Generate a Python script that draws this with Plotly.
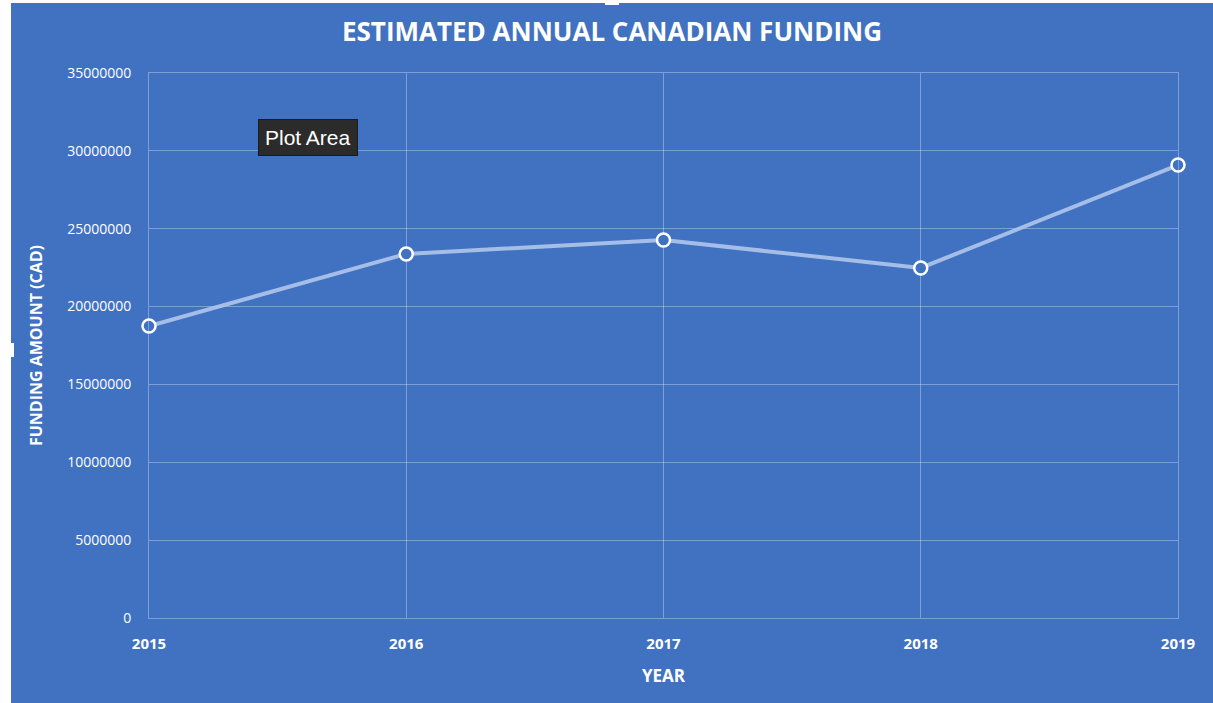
import plotly.graph_objects as go

years = [2015, 2016, 2017, 2018, 2019]
funding = [18750000, 23380000, 24280000, 22480000, 29090000]
y_ticks = [0, 5000000, 10000000, 15000000, 20000000, 25000000, 30000000, 35000000]
x_ticks = [2015, 2016, 2017, 2018, 2019]

BLUE = "#4072C1"
GRID = "rgba(255,255,255,0.32)"
W, H = 1213, 703
L, R, T, B = 149, 35, 73, 85
pw, ph = W - L - R, H - T - B

def px_x(p):
    return (p - L) / pw

def px_y(p):
    return (H - B - p) / ph

fig = go.Figure()
fig.add_trace(go.Scatter(
    x=years, y=funding, mode="lines+markers",
    line=dict(color="rgba(175,198,235,0.9)", width=4),
    marker=dict(size=13, color=BLUE, line=dict(color="white", width=2.5)),
    cliponaxis=False, hoverinfo="x+y", showlegend=False,
))

fig.update_layout(
    width=W, height=H,
    margin=dict(l=L, r=R, t=T, b=B),
    paper_bgcolor="white",
    plot_bgcolor=BLUE,
    title=dict(text="<b>ESTIMATED ANNUAL CANADIAN FUNDING</b>", x=612 / W, xref="container",
               xanchor="center", y=1 - 32 / H, yanchor="middle",
               font=dict(family="Open Sans", size=26, color="white")),
    font=dict(family="Open Sans", color="white"),
    shapes=[
        dict(type="rect", xref="paper", yref="paper", layer="below",
             x0=px_x(11), x1=px_x(W), y0=px_y(3), y1=px_y(H),
             fillcolor=BLUE, line=dict(width=0)),
        dict(type="rect", xref="paper", yref="paper",
             x0=px_x(605), x1=px_x(619), y0=px_y(0), y1=px_y(5),
             fillcolor="white", line=dict(width=0)),
        dict(type="rect", xref="paper", yref="paper",
             x0=px_x(8), x1=px_x(14), y0=px_y(343), y1=px_y(357),
             fillcolor="white", line=dict(width=0)),
    ],
    annotations=[
        dict(text="Plot Area", xref="paper", yref="paper", x=px_x(308), y=px_y(137),
             xanchor="center", yanchor="middle", showarrow=False,
             font=dict(family="Liberation Sans", size=21, color="white"),
             bgcolor="#2b2b2b", bordercolor="#1a1a1a", borderwidth=1, borderpad=6),
    ],
)

fig.update_xaxes(
    range=[2015, 2019], tickvals=x_ticks, ticktext=[str(v) for v in x_ticks],
    showgrid=True, gridcolor=GRID, gridwidth=1,
    showline=True, linecolor=GRID, linewidth=1, mirror=True,
    zeroline=False, ticks="", ticklabelstandoff=12,
    tickfont=dict(family="Open Sans", size=15, color="white", weight="bold"),
    title=dict(text="<b>YEAR</b>", font=dict(family="Open Sans", size=17, color="white"), standoff=18),
)
fig.update_yaxes(
    range=[0, 35000000], tickvals=y_ticks, ticktext=[str(v) for v in y_ticks],
    showgrid=True, gridcolor=GRID, gridwidth=1,
    showline=True, linecolor=GRID, linewidth=1, mirror=True,
    zeroline=False, ticks="", ticklabelstandoff=14,
    tickfont=dict(family="Open Sans", size=14, color="white"),
    title=dict(text="<b>FUNDING AMOUNT (CAD)</b>", font=dict(family="Open Sans", size=16, color="white"), standoff=20),
)

fig.write_html("out.html", config={"displayModeBar": False},
               post_script="document.body.style.margin='0';")
